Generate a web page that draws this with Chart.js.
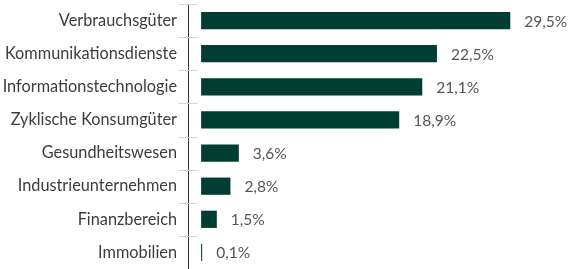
<!DOCTYPE html>
<html>
<head>
<meta charset="utf-8">
<script src="https://cdn.jsdelivr.net/npm/chart.js@4"></script>
<style>
  html, body { margin: 0; padding: 0; background: #fff; }
  #wrap { width: 569px; height: 269px; }
</style>
</head>
<body>
<div id="wrap"><canvas id="barChart"></canvas></div>
<script>
const categories = ['Verbrauchsgüter', 'Kommunikationsdienste', 'Informationstechnologie', 'Zyklische Konsumgüter', 'Gesundheitswesen', 'Industrieunternehmen', 'Finanzbereich', 'Immobilien'];
const weights = [29.5, 22.5, 21.1, 18.9, 3.6, 2.8, 1.5, 0.1];

// short grey separators across the axis line, between categories
const separators = {
    id: 'separators',
    afterDraw(chart) {
        const y = chart.scales.y;
        const ctx = chart.ctx;
        const x0 = chart.chartArea.left;
        ctx.save();
        ctx.strokeStyle = '#d6d6d6';
        ctx.lineWidth = 1;
        for (let i = 0; i <= categories.length; i++) {
            const py = Math.round(y.getPixelForValue(i - 0.5)) + 0.5;
            ctx.beginPath();
            ctx.moveTo(x0 - 10, py);
            ctx.lineTo(x0 + 10, py);
            ctx.stroke();
        }
        ctx.restore();
    }
};

// percent labels right of each bar
const valueLabels = {
    id: 'valueLabels',
    afterDatasetsDraw(chart) {
        const ctx = chart.ctx;
        const meta = chart.getDatasetMeta(0);
        ctx.save();
        ctx.font = '15.5px Lato';
        ctx.fillStyle = '#555555';
        ctx.textAlign = 'left';
        ctx.textBaseline = 'middle';
        meta.data.forEach((bar, i) => {
            const txt = weights[i].toFixed(1).replace('.', ',') + '%';
            ctx.fillText(txt, bar.x + 14, bar.y + 1);
        });
        ctx.restore();
    }
};

new Chart(document.getElementById('barChart'), {
    type: 'bar',
    data: {
        labels: categories,
        datasets: [{
            data: weights,
            backgroundColor: '#013d32',
            borderWidth: 0,
            barPercentage: 0.52,
            categoryPercentage: 1
        }]
    },
    options: {
        indexAxis: 'y',
        responsive: true,
        maintainAspectRatio: false,
        animation: false,
        layout: { padding: { top: 4, right: 0, bottom: 0, left: 0 } },
        scales: {
            x: {
                display: false,
                min: -1.25,
                max: 35.1
            },
            y: {
                afterFit(scale) {
                    scale.width = 188;
                    scale.paddingTop = 0;
                    scale.paddingBottom = 0;
                },
                grid: { display: false, drawTicks: false },
                border: { display: true, color: '#333333', width: 1 },
                ticks: {
                    padding: 11,
                    color: '#3d3d3d',
                    font: { family: 'Lato', size: 16.3 }
                }
            }
        },
        plugins: {
            legend: { display: false },
            tooltip: { enabled: false }
        }
    },
    plugins: [separators, valueLabels]
});
</script>
</body>
</html>
